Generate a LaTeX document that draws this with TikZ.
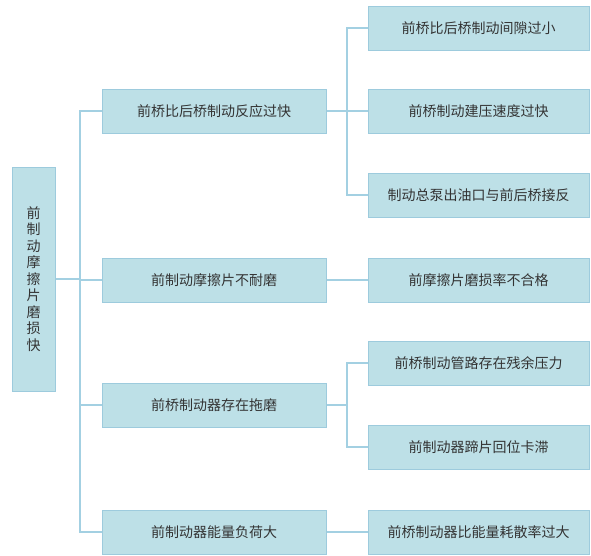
\documentclass[tikz,border=0pt]{standalone}
\usepackage{fontspec}
\setmainfont{Noto Sans CJK SC}
\usepackage{tikz}
\usetikzlibrary{positioning}
\definecolor{causefill}{HTML}{BDE0E7}
\definecolor{causeedge}{HTML}{9DCBDD}
\definecolor{causeline}{HTML}{A3D0E2}
\definecolor{causetext}{HTML}{333333}
\tikzset{
  causebox/.style={
    rectangle,
    draw=causeedge,
    fill=causefill,
    line width=1pt,
    align=center,
    inner sep=0pt,
    text=causetext,
    font=\fontsize{14}{16.5}\selectfont
  },
  rootbox/.style={causebox, minimum width=43pt, minimum height=224pt},
  midbox/.style={causebox, minimum width=224pt, minimum height=44pt},
  leafbox/.style={causebox, minimum width=221pt, minimum height=44pt},
  causelink/.style={draw=causeline, line width=1.2pt}
}
\begin{document}
\begin{tikzpicture}[x=1pt, y=-1pt]
\useasboundingbox (0,0) rectangle (591,555);
\node[rootbox] (root) at (33.5,279) {前\\制\\动\\摩\\擦\\片\\磨\\损\\快};
\node[midbox] (m1) at (214,111) {前桥比后桥制动反应过快};
\node[midbox] (m2) at (214,280) {前制动摩擦片不耐磨};
\node[midbox] (m3) at (214,405) {前桥制动器存在拖磨};
\node[midbox] (m4) at (214,532) {前制动器能量负荷大};
\node[leafbox] (r0) at (478.5,28) {前桥比后桥制动间隙过小};
\node[leafbox] (r1) at (478.5,111) {前桥制动建压速度过快};
\node[leafbox] (r2) at (478.5,195) {制动总泵出油口与前后桥接反};
\node[leafbox] (r3) at (478.5,280) {前摩擦片磨损率不合格};
\node[leafbox] (r4) at (478.5,363) {前桥制动管路存在残余压力};
\node[leafbox] (r5) at (478.5,447) {前制动器蹄片回位卡滞};
\node[leafbox] (r6) at (478.5,532) {前桥制动器比能量耗散率过大};
\coordinate (trunk) at (80,279);
\coordinate (fork1) at (347,111);
\coordinate (fork3) at (347,405);
% root to middle column
\draw[causelink] (root.east) -- (trunk);
\draw[causelink] (m1.west) -| (trunk) |- (m4.west);
\draw[causelink] (m2.west) -- (m2.west -| trunk);
\draw[causelink] (m3.west) -- (m3.west -| trunk);
% middle to right column
\draw[causelink] (m1.east) -- (r1.west);
\draw[causelink] (r0.west) -| (fork1) |- (r2.west);
\draw[causelink] (m2.east) -- (r3.west);
\draw[causelink] (m3.east) -- (fork3);
\draw[causelink] (r4.west) -| (fork3) |- (r5.west);
\draw[causelink] (m4.east) -- (r6.west);
\end{tikzpicture}
\end{document}
